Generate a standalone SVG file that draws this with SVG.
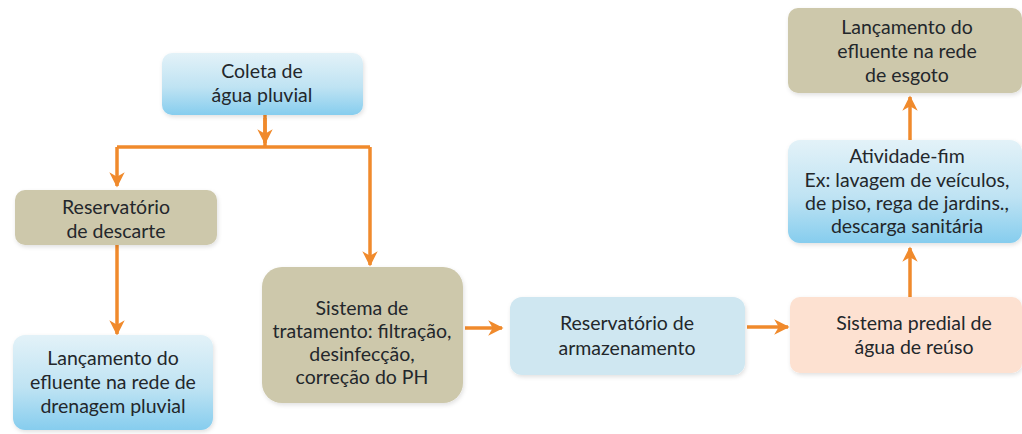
<svg xmlns="http://www.w3.org/2000/svg" width="1022" height="434" viewBox="0 0 1022 434">
<defs>
<linearGradient id="gBlue" x1="0" y1="0" x2="0" y2="1">
<stop offset="0" stop-color="#e3f2f8"/>
<stop offset="0.55" stop-color="#bfe3f3"/>
<stop offset="1" stop-color="#86cdee"/>
</linearGradient>
<marker id="ah" viewBox="0 0 10 10" refX="9" refY="5" markerWidth="4.4" markerHeight="4.4" orient="auto" markerUnits="strokeWidth">
<path d="M0,0 L10,5 L0,10 L3,5 Z" fill="#f08a2c"/>
</marker>
<filter id="sh" x="-5%" y="-5%" width="112%" height="120%">
<feDropShadow dx="1" dy="2" stdDeviation="2" flood-color="#000" flood-opacity="0.12"/>
</filter>
</defs>
<style>
.box{filter:url(#sh)}
.blue{fill:url(#gBlue)}
.tan{fill:#cdc8ab}
.lblue{fill:#cfe7f1}
.peach{fill:#fde1d1}
text{font-family:Lato,"Open Sans","DejaVu Sans",sans-serif;font-size:19.5px;fill:#23272b;text-anchor:middle}
.con{fill:none;stroke:#f08a2c;stroke-width:3.5;marker-end:url(#ah)}
.line{fill:none;stroke:#f08a2c;stroke-width:3.5}
</style>
<rect width="1022" height="434" fill="#ffffff"/>
<g id="connectors">
<path class="line" d="M265,115 V147"/>
<path class="con" d="M265,118 V143"/>
<path class="line" d="M117,147 H370"/>
<path class="con" d="M117,147 V186"/>
<path class="con" d="M370,147 V265"/>
<path class="con" d="M117,245 V334"/>
<path class="con" d="M465,328 H502"/>
<path class="con" d="M747,327 H788"/>
<path class="con" d="M910,297 V248"/>
<path class="con" d="M910,140 V97"/>
</g>
<g id="n-coleta">
<rect class="box blue" x="162" y="53" width="201" height="62" rx="10"/>
<text x="262" y="78">Coleta de</text>
<text x="262" y="102">água pluvial</text>
</g>
<g id="n-descarte">
<rect class="box tan" x="15" y="190" width="202" height="55" rx="10"/>
<text x="116" y="214">Reservatório</text>
<text x="116" y="238">de descarte</text>
</g>
<g id="n-drenagem">
<rect class="box blue" x="13" y="335" width="200" height="95" rx="12"/>
<text x="113" y="365">Lançamento do</text>
<text x="113" y="389">efluente na rede de</text>
<text x="113" y="413">drenagem pluvial</text>
</g>
<g id="n-tratamento">
<rect class="box tan" x="262" y="267" width="201" height="136" rx="20"/>
<text x="362" y="315">Sistema de</text>
<text x="362" y="338">tratamento: filtração,</text>
<text x="362" y="361">desinfecção,</text>
<text x="362" y="384">correção do PH</text>
</g>
<g id="n-armazenamento">
<rect class="box lblue" x="510" y="297" width="235" height="78" rx="12"/>
<text x="627" y="330">Reservatório de</text>
<text x="627" y="355">armazenamento</text>
</g>
<g id="n-predial">
<rect class="box peach" x="790" y="297" width="232" height="76" rx="10"/>
<text x="914" y="330">Sistema predial de</text>
<text x="914" y="354">água de reúso</text>
</g>
<g id="n-atividade">
<rect class="box blue" x="788" y="140" width="234" height="103" rx="12"/>
<text x="907" y="163">Atividade-fim</text>
<text x="907" y="187">Ex: lavagem de veículos,</text>
<text x="907" y="210">de piso, rega de jardins.,</text>
<text x="907" y="233">descarga sanitária</text>
</g>
<g id="n-esgoto">
<rect class="box tan" x="788" y="8" width="234" height="85" rx="10"/>
<text x="907" y="34">Lançamento do</text>
<text x="907" y="58">efluente na rede</text>
<text x="907" y="82">de esgoto</text>
</g>
</svg>
